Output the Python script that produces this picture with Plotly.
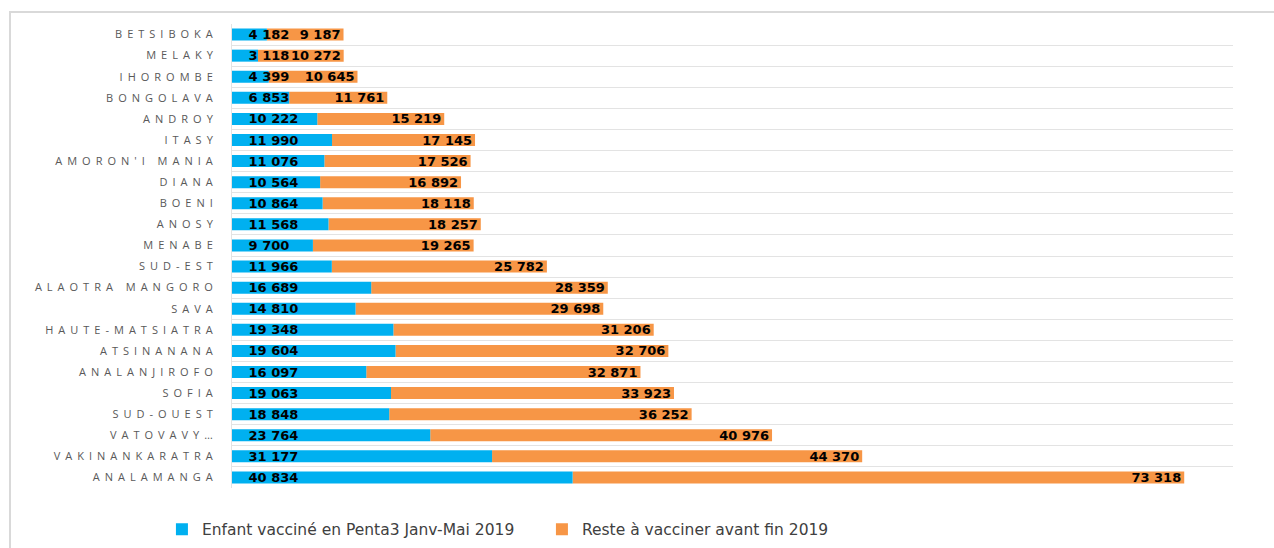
import plotly.graph_objects as go

regions = ["BETSIBOKA", "MELAKY", "IHOROMBE", "BONGOLAVA", "ANDROY", "ITASY",
           "AMORON'I MANIA", "DIANA", "BOENI", "ANOSY", "MENABE", "SUD-EST",
           "ALAOTRA MANGORO", "SAVA", "HAUTE-MATSIATRA", "ATSINANANA",
           "ANALANJIROFO", "SOFIA", "SUD-OUEST", "VATOVAVY…", "VAKINANKARATRA",
           "ANALAMANGA"]
vaccines = [4182, 3118, 4399, 6853, 10222, 11990, 11076, 10564, 10864, 11568,
            9700, 11966, 16689, 14810, 19348, 19604, 16097, 19063, 18848,
            23764, 31177, 40834]
reste = [9187, 10272, 10645, 11761, 15219, 17145, 17526, 16892, 18118, 18257,
         19265, 25782, 28359, 29698, 31206, 32706, 32871, 33923, 36252, 40976,
         44370, 73318]
series_names = ["Enfant vacciné en Penta3 Janv-Mai 2019",
                "Reste à vacciner avant fin 2019"]

BLUE = "#00B0F0"
ORANGE = "#F79646"
GRID = "#E3E3E3"
label_font = dict(family="DejaVu Sans", size=13, color="black", weight="bold")

fig = go.Figure()
# orange segment drawn first (stacked on top of blue values via base)
fig.add_trace(go.Bar(
    y=regions, x=reste, base=vaccines, orientation="h", name=series_names[1],
    marker=dict(color=ORANGE, line=dict(width=0)),
    texttemplate="%{x:,d}", textposition="inside", insidetextanchor="end",
    constraintext="none", textfont=label_font, insidetextfont=label_font,
    hoverinfo="skip",
))
fig.add_trace(go.Bar(
    y=regions, x=vaccines, orientation="h", name=series_names[0],
    marker=dict(color=BLUE, line=dict(width=0)),
    texttemplate="\u00a0\u00a0\u00a0%{x:,d}", textposition="inside",
    insidetextanchor="start", constraintext="none",
    textfont=label_font, insidetextfont=label_font, hoverinfo="skip",
))

fig.update_layout(
    width=1274, height=548,
    barmode="overlay", bargap=0.43,
    separators=", ",
    paper_bgcolor="white", plot_bgcolor="white",
    margin=dict(l=232, r=41, t=24, b=60, autoexpand=False),
    showlegend=True,
    legend=dict(orientation="h", traceorder="reversed",
                x=-0.07, xanchor="left", y=-0.09, yanchor="middle",
                font=dict(family="DejaVu Sans", size=15.5, color="#404040"),
                entrywidth=335, itemwidth=30),
    xaxis=dict(visible=False, range=[0, 120000], fixedrange=True),
    yaxis=dict(type="category", autorange="reversed", tickson="boundaries",
               showgrid=True, gridcolor=GRID, gridwidth=1,
               showline=True, linecolor=GRID, linewidth=1,
               ticks="", ticklabelstandoff=11, zeroline=False, fixedrange=True,
               tickfont=dict(family="Open Sans", size=11, color="#595959")),
    shapes=[dict(type="rect", xref="paper", yref="paper",
                 x0=(10 - 232) / 1001, x1=1.1, y0=-0.3, y1=(488 - 12) / 464,
                 line=dict(color="#D9D9D9", width=2), fillcolor="rgba(0,0,0,0)",
                 layer="below")],
)

post = """
document.body.style.margin='0';
document.querySelectorAll('.ytick text').forEach(function(t){t.style.letterSpacing='5px';});
"""
fig.write_html("out.html", post_script=post, config={"displayModeBar": False})
